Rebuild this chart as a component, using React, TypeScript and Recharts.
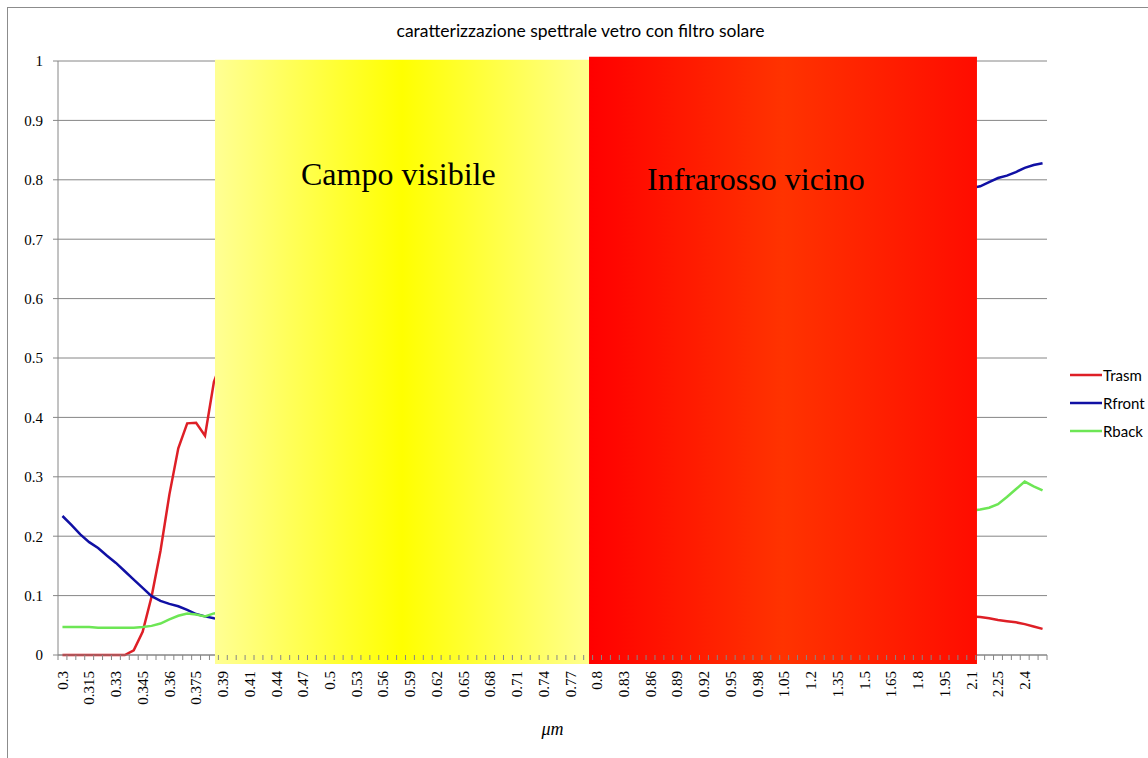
import React from 'react';
import {
  LineChart, Line, XAxis, YAxis, CartesianGrid, Legend, ReferenceArea,
} from 'recharts';

// wavelength categories (µm)
const categories: string[] = [
  '0.3', '0.305', '0.31', '0.315', '0.32', '0.325', '0.33', '0.335', '0.34', '0.345',
  '0.35', '0.355', '0.36', '0.365', '0.37', '0.375', '0.38', '0.385', '0.39', '0.395', '0.4',
  '0.41', '0.42', '0.43', '0.44', '0.45', '0.46', '0.47', '0.48', '0.49', '0.5',
  '0.51', '0.52', '0.53', '0.54', '0.55', '0.56', '0.57', '0.58', '0.59', '0.6',
  '0.61', '0.62', '0.63', '0.64', '0.65', '0.66', '0.67', '0.68', '0.69', '0.7',
  '0.71', '0.72', '0.73', '0.74', '0.75', '0.76', '0.77', '0.78', '0.79', '0.8',
  '0.81', '0.82', '0.83', '0.84', '0.85', '0.86', '0.87', '0.88', '0.89', '0.9',
  '0.91', '0.92', '0.93', '0.94', '0.95', '0.96', '0.97', '0.98', '0.99', '1',
  '1.05', '1.1', '1.15', '1.2', '1.25', '1.3', '1.35', '1.4', '1.45', '1.5',
  '1.55', '1.6', '1.65', '1.7', '1.75', '1.8', '1.85', '1.9', '1.95', '2',
  '2.05', '2.1', '2.15', '2.2', '2.25', '2.3', '2.35', '2.4', '2.45', '2.5',
];

const trasm: number[] = [
  0, 0, 0, 0, 0, 0, 0, 0, 0.008,
  0.039, 0.098, 0.175, 0.27, 0.348, 0.39, 0.391, 0.369, 0.46,
  0.5, 0.52, 0.54,
  0.56, 0.58, 0.59, 0.6, 0.61, 0.62, 0.62, 0.63, 0.63, 0.63,
  0.63, 0.62, 0.62, 0.61, 0.6, 0.59, 0.58, 0.57, 0.55, 0.54,
  0.52, 0.51, 0.49, 0.47, 0.45, 0.43, 0.41, 0.39, 0.37, 0.35,
  0.33, 0.31, 0.29, 0.27, 0.25, 0.24, 0.22, 0.21, 0.19, 0.18,
  0.17, 0.16, 0.155, 0.15, 0.14, 0.135, 0.13, 0.125, 0.12, 0.115,
  0.11, 0.108, 0.105, 0.102, 0.1, 0.098, 0.096, 0.094, 0.092, 0.09,
  0.088, 0.086, 0.085, 0.083, 0.082, 0.081, 0.08, 0.079, 0.078, 0.077,
  0.076, 0.075, 0.074, 0.073, 0.072, 0.071, 0.07, 0.069, 0.068, 0.067,
  0.066, 0.065, 0.064,
  0.062, 0.059, 0.057, 0.055, 0.052, 0.048, 0.044,
];

const rfront: number[] = [
  0.234, 0.219, 0.203, 0.19, 0.18, 0.167, 0.155, 0.141, 0.127,
  0.113, 0.099, 0.091, 0.086, 0.082, 0.076, 0.069, 0.065, 0.062,
  0.06, 0.058, 0.057,
  0.056, 0.055, 0.055, 0.054, 0.054, 0.055, 0.056, 0.057, 0.058, 0.06,
  0.062, 0.064, 0.067, 0.07, 0.074, 0.078, 0.083, 0.089, 0.096, 0.104,
  0.113, 0.123, 0.134, 0.146, 0.159, 0.173, 0.188, 0.204, 0.221, 0.239,
  0.257, 0.276, 0.295, 0.314, 0.333, 0.352, 0.371, 0.39, 0.408, 0.426,
  0.443, 0.46, 0.476, 0.491, 0.505, 0.519, 0.532, 0.544, 0.556, 0.567,
  0.578, 0.588, 0.597, 0.606, 0.614, 0.622, 0.629, 0.636, 0.643, 0.65,
  0.665, 0.678, 0.69, 0.7, 0.709, 0.717, 0.724, 0.731, 0.737, 0.742,
  0.747, 0.752, 0.756, 0.76, 0.764, 0.767, 0.771, 0.774, 0.777, 0.78,
  0.783, 0.786, 0.789,
  0.796, 0.803, 0.807, 0.813, 0.82, 0.825, 0.828,
];

const rback: number[] = [
  0.047, 0.047, 0.047, 0.047, 0.046, 0.046, 0.046, 0.046, 0.046,
  0.047, 0.049, 0.053, 0.06, 0.066, 0.07, 0.068, 0.065, 0.07,
  0.072, 0.073, 0.073,
  0.074, 0.075, 0.075, 0.076, 0.076, 0.077, 0.077, 0.078, 0.078, 0.079,
  0.079, 0.08, 0.08, 0.081, 0.082, 0.083, 0.084, 0.085, 0.086, 0.087,
  0.088, 0.09, 0.092, 0.094, 0.096, 0.098, 0.1, 0.102, 0.104, 0.106,
  0.108, 0.11, 0.112, 0.114, 0.116, 0.118, 0.12, 0.122, 0.124, 0.126,
  0.128, 0.131, 0.133, 0.134, 0.137, 0.139, 0.14, 0.143, 0.145, 0.146,
  0.149, 0.151, 0.152, 0.155, 0.157, 0.158, 0.161, 0.163, 0.164, 0.167,
  0.172, 0.177, 0.181, 0.186, 0.19, 0.193, 0.197, 0.2, 0.204, 0.207,
  0.21, 0.213, 0.216, 0.219, 0.222, 0.225, 0.228, 0.231, 0.234, 0.237,
  0.24, 0.243, 0.245,
  0.248, 0.254, 0.266, 0.279, 0.292, 0.284, 0.277,
];

const seriesNames: string[] = ['Trasm', 'Rfront', 'Rback'];
const seriesColors: string[] = ['#DE1F26', '#1010A4', '#6DE655'];

const yTicks: number[] = [0, 0.1, 0.2, 0.3, 0.4, 0.5, 0.6, 0.7, 0.8, 0.9, 1];

// band positions (in category-slot units) of the two shaded overlays
const visibleBand = { from: 17.62, to: 59.6, top: 1.002, bottom: -0.015 };
const infraredBand = { from: 59.6, to: 103.14, top: 1.007, bottom: -0.015 };

const N = categories.length;

// each category occupies one slot on a linear axis; the point sits in the slot centre
const data = categories.map((wl, i) => ({
  wl,
  slot: i + 0.5,
  Trasm: trasm[i],
  Rfront: rfront[i],
  Rback: rback[i],
}));

// boundary ticks (integers) + label ticks (centres of every third category)
const bottomTicks: number[] = [];
for (let i = 0; i <= N; i++) {
  bottomTicks.push(i);
  if (i < N && i % 3 === 0) bottomTicks.push(i + 0.5);
}

const GRID = '#868686';
const SERIF = '"Liberation Serif", "Times New Roman", serif';
const SANS = 'Lato, "Open Sans", sans-serif';

const BottomTick = (props: any) => {
  const { x, y, payload } = props;
  const v = payload.value as number;
  if (Number.isInteger(v)) {
    return <line x1={x} x2={x} y1={y} y2={y + 5} stroke={GRID} strokeWidth={1} />;
  }
  const label = categories[Math.floor(v)];
  return (
    <g transform={`translate(${x},${y + 16}) rotate(-90)`}>
      <text x={0} y={0} dy="0.35em" textAnchor="end" fontFamily={SERIF} fontSize={15} fill="#000">
        {label}
      </text>
    </g>
  );
};

const renderLegend = (props: any) => {
  const payload = [...(props.payload || [])].sort(
    (a: any, b: any) => seriesNames.indexOf(a.value) - seriesNames.indexOf(b.value),
  );
  return (
    <div>
      {payload.map((item: any) => (
        <div key={item.value} style={{ display: 'flex', alignItems: 'center', height: 28 }}>
          <svg width={34} height={6} style={{ display: 'block' }}>
            <line x1={1} x2={33} y1={3} y2={3} stroke={item.color} strokeWidth={2.5} />
          </svg>
          <span style={{ fontFamily: SANS, fontSize: 15, color: '#000', lineHeight: '18px' }}>{item.value}</span>
        </div>
      ))}
    </div>
  );
};

const bandLabel = (text: string, dx: number, dy: number) => (p: any) => {
  const vb = p.viewBox || {};
  return (
    <text x={(vb.x || 0) + dx} y={(vb.y || 0) + dy} fontFamily={SERIF} fontSize={32} fill="#000">
      {text}
    </text>
  );
};

export default function App() {
  return (
    <div style={{ position: 'absolute', left: 0, top: 0, width: 1148, height: 758, overflow: 'hidden', background: '#fff' }}>
      <div style={{ position: 'absolute', left: 7, top: 7, width: 1160, height: 770, border: '1px solid #8c8c8c', boxSizing: 'border-box' }} />
      <div style={{ position: 'absolute', left: 330, top: 21, width: 501, textAlign: 'center', fontFamily: SANS, fontSize: 17.5, lineHeight: '20px', color: '#000', whiteSpace: 'nowrap' }}>
        caratterizzazione spettrale vetro con filtro solare
      </div>
      <div style={{ position: 'absolute', left: 0, top: 0 }}>
        <LineChart width={1148} height={758} data={data} margin={{ top: 61, right: 101, bottom: 0, left: 0 }}>
          <defs>
            <linearGradient id="yellowGrad" x1="0" y1="0" x2="1" y2="0">
              <stop offset="0%" stopColor="#FFFF94" />
              <stop offset="50%" stopColor="#FFFF00" />
              <stop offset="100%" stopColor="#FFFF8C" />
            </linearGradient>
            <linearGradient id="redGrad" x1="0" y1="0" x2="1" y2="0">
              <stop offset="0%" stopColor="#FF0000" />
              <stop offset="50%" stopColor="#FF3300" />
              <stop offset="100%" stopColor="#FF0C00" />
            </linearGradient>
          </defs>
          <CartesianGrid vertical={false} stroke={GRID} strokeWidth={1} />
          <XAxis
            dataKey="slot"
            type="number"
            domain={[0, N]}
            allowDataOverflow
            ticks={bottomTicks}
            interval={0}
            tick={BottomTick}
            tickLine={false}
            tickSize={0}
            tickMargin={0}
            axisLine={{ stroke: GRID }}
            height={103}
            label={{ value: 'μm', position: 'insideBottom', offset: 23, fontFamily: SERIF, fontStyle: 'italic', fontSize: 18, fill: '#000' }}
          />
          <YAxis
            type="number"
            domain={[0, 1]}
            ticks={yTicks}
            interval={0}
            width={58}
            tickSize={5}
            tickMargin={10}
            axisLine={{ stroke: GRID }}
            tickLine={{ stroke: GRID }}
            tick={{ fontFamily: SERIF, fontSize: 15, fill: '#000' }}
          />
          {seriesNames.map((name, k) => (
            <Line
              key={name}
              type="linear"
              dataKey={name}
              stroke={seriesColors[k]}
              strokeWidth={2.5}
              dot={false}
              activeDot={false}
              isAnimationActive={false}
            />
          ))}
          <Legend
            layout="vertical"
            align="center"
            verticalAlign="middle"
            wrapperStyle={{ left: 1069, top: 361, width: 80 }}
            content={renderLegend}
          />
          <ReferenceArea
            x1={visibleBand.from}
            x2={visibleBand.to}
            y1={visibleBand.bottom}
            y2={visibleBand.top}
            ifOverflow="visible"
            fill="url(#yellowGrad)"
            fillOpacity={1}
            stroke="none"
            zIndex={700}
            label={bandLabel('Campo visibile', 86, 125)}
          />
          <ReferenceArea
            x1={infraredBand.from}
            x2={infraredBand.to}
            y1={infraredBand.bottom}
            y2={infraredBand.top}
            ifOverflow="visible"
            fill="url(#redGrad)"
            fillOpacity={1}
            stroke="none"
            zIndex={700}
            label={bandLabel('Infrarosso vicino', 58, 133)}
          />
        </LineChart>
      </div>
    </div>
  );
}
